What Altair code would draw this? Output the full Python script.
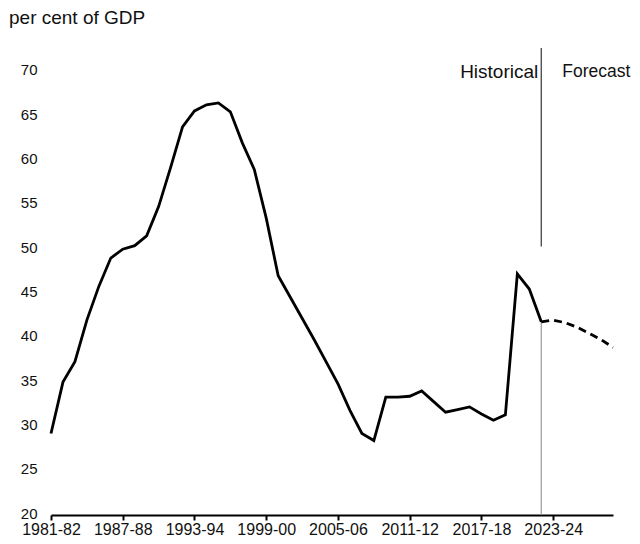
import altair as alt
import pandas as pd

hist_years = list(range(1981, 2023))
hist_values = [29.2, 35.0, 37.3, 42.0, 45.8, 49.0, 50.0, 50.4, 51.5, 54.8,
               59.2, 63.8, 65.6, 66.3, 66.5, 65.5, 62.0, 59.0, 53.5, 47.0,
               44.6, 42.2, 39.8, 37.3, 34.8, 31.8, 29.2, 28.4, 33.3, 33.3,
               33.4, 34.0, 32.8, 31.6, 31.9, 32.2, 31.4, 30.7, 31.3, 47.2,
               45.5, 41.8]
fc_years = list(range(2022, 2029))
fc_values = [41.8, 42.0, 41.7, 41.2, 40.5, 39.8, 38.9]
tick_years = [1981, 1987, 1993, 1999, 2005, 2011, 2017, 2023]
y_ticks = [20, 25, 30, 35, 40, 45, 50, 55, 60, 65, 70]
split_year = 2022
title_text = "per cent of GDP"

FONT = "Liberation Sans"

hist = pd.DataFrame({"year": hist_years, "value": hist_values})
fc = pd.DataFrame({"year": fc_years, "value": fc_values})

xscale = alt.Scale(domain=[1981, 2028], nice=False, zero=False)
yscale = alt.Scale(domain=[20, 72.93], nice=False, zero=False)

xaxis = alt.Axis(values=tick_years, title=None, grid=False,
                 labelExpr="datum.value + '-' + slice('0' + ((datum.value + 1) % 100), -2)",
                 domainColor="black", domainWidth=2, tickColor="black", tickWidth=2,
                 tickSize=5, labelFont=FONT, labelFontSize=16, labelColor="#111",
                 labelPadding=1, labelOverlap=False, labelFlush=False)
yaxis = alt.Axis(values=y_ticks, title=None, grid=False, domain=False, ticks=False,
                 labelFont=FONT, labelFontSize=15, labelColor="#111", labelPadding=14,
                 labelOffset=-2)

line_h = alt.Chart(hist).mark_line(color="black", strokeWidth=2.8).encode(
    x=alt.X("year:Q", scale=xscale, axis=xaxis),
    y=alt.Y("value:Q", scale=yscale, axis=yaxis),
)
line_f = alt.Chart(fc).mark_line(color="black", strokeWidth=2.8, strokeDash=[8, 5]).encode(
    x=alt.X("year:Q", scale=xscale),
    y=alt.Y("value:Q", scale=yscale),
)

rule_df = pd.DataFrame({"x": [split_year, split_year], "y1": [72.7, 41.8], "y2": [50.3, 20],
                        "c": ["#333333", "#999999"]})
rules = alt.Chart(rule_df).mark_rule(strokeWidth=1.2).encode(
    x=alt.X("x:Q", scale=xscale),
    y=alt.Y("y1:Q", scale=yscale),
    y2="y2:Q",
    color=alt.Color("c:N", scale=None),
)

lab_df = pd.DataFrame({"x": [split_year], "y": [70], "h": ["Historical"], "f": ["Forecast"]})
t_hist = alt.Chart(lab_df).mark_text(align="right", dx=-3, font=FONT, fontSize=19, color="#111").encode(
    x=alt.X("x:Q", scale=xscale), y=alt.Y("y:Q", scale=yscale), text="h:N")
t_fc = alt.Chart(lab_df).mark_text(align="left", dx=21, font=FONT, fontSize=17.5, color="#111").encode(
    x=alt.X("x:Q", scale=xscale), y=alt.Y("y:Q", scale=yscale), text="f:N")

title_mark = alt.Chart(lab_df).mark_text(align="left", baseline="middle", font=FONT, fontSize=19,
                                          color="#111").encode(
    x=alt.value(-42), y=alt.value(-28), text=alt.value(title_text))

chart = alt.layer(rules, line_h, line_f, t_hist, t_fc, title_mark).properties(
    width=562, height=469,
    autosize=alt.AutoSizeParams(type="none"),
    padding={"left": 43, "top": 38, "right": 19, "bottom": 21},
).configure_view(stroke=None)

chart.save("out.html", embed_options={"renderer": "svg", "actions": False})
